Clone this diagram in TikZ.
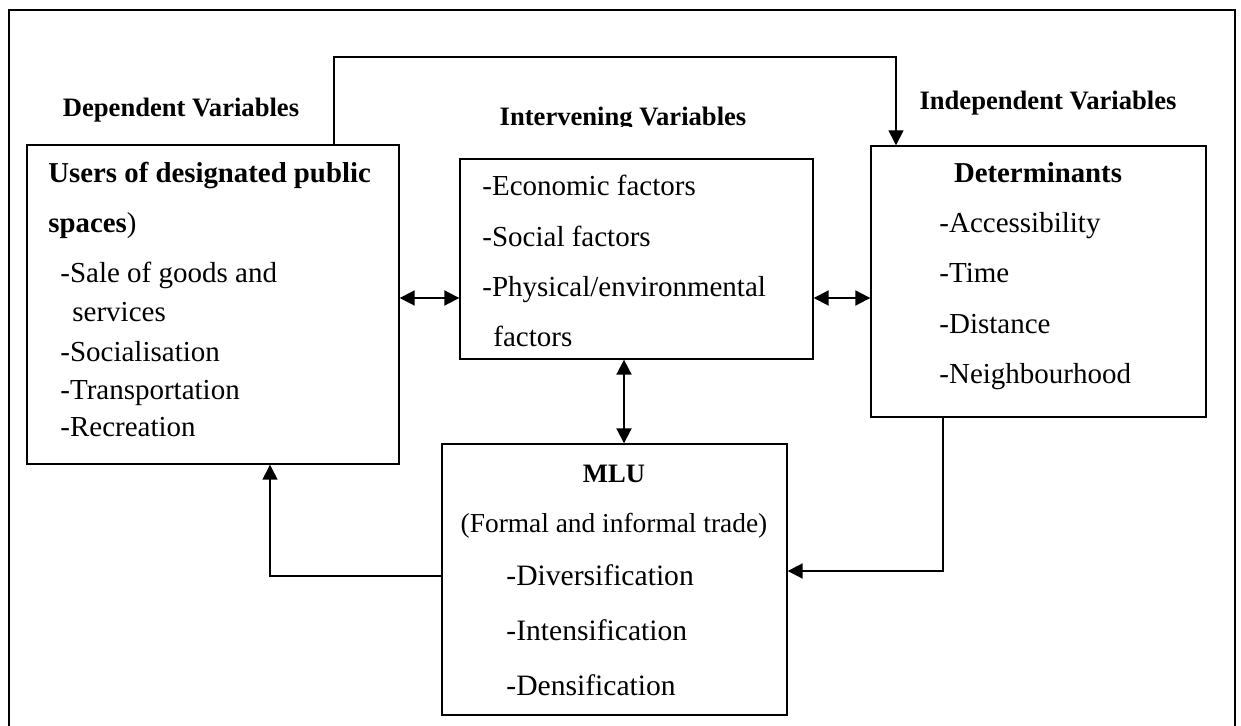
\documentclass[tikz,border=0pt]{standalone}
\usepackage{fontspec}
\setmainfont{Liberation Serif}
\usepackage{tikz}
\usetikzlibrary{arrows.meta}
\tikzset{
    var-box/.style = {draw, line width=0.7pt, rectangle, inner sep=0pt},
    var-label/.style = {font=\fontsize{13.3}{16}\selectfont\bfseries, inner sep=0pt, anchor=base},
    box-head/.style = {font=\fontsize{14.4}{17}\selectfont\bfseries, inner sep=0pt},
    item/.style = {font=\fontsize{14.5}{17}\selectfont, inner sep=0pt, anchor=base west},
    big-item/.style = {font=\fontsize{14.8}{18}\selectfont, inner sep=0pt, anchor=base west},
    link/.style = {line width=0.7pt, -{Triangle[length=7.5pt,width=7.5pt]}},
    strong-link/.style = {line width=1pt, -{Triangle[length=7.5pt,width=7.5pt]}},
    two-way/.style = {line width=1pt, {Triangle[length=7.5pt,width=7.5pt]}-{Triangle[length=7.5pt,width=7.5pt]}},
}

\begin{document}
\begin{tikzpicture}[x=0.5pt, y=-0.5pt]
\useasboundingbox (0,0) rectangle (1241,726);
% outer frame, its bottom edge lies below the page
\draw[line width=1pt] (9,726) -- (9,10) -- (1235,10) -- (1235,726);

% the four boxes
\node[var-box, minimum width=186pt, minimum height=159.5pt] (users) at (213,304.5) {};
\node[var-box, minimum width=176.5pt, minimum height=100pt] (inter) at (636.5,259) {};
\node[var-box, minimum width=167.5pt, minimum height=135.5pt] (det) at (1038.5,281.5) {};
\node[var-box, minimum width=172.5pt, minimum height=135.5pt] (mlu) at (614.5,579.5) {};

% headings above the boxes
\node[var-label] (dep-lbl) at (181,117) {Dependent Variables};
\begin{scope}
    \clip (450,80) rectangle (800,127);
    \node[var-label] (int-lbl) at (623,126) {Intervening Variables};
\end{scope}
\node[var-label] (ind-lbl) at (1048,110) {Independent Variables};

% users of public spaces
\node[box-head, anchor=base west] (users-t1) at (48,183) {Users of designated public};
\node[box-head, anchor=base west] (users-t2) at (48,233) {spaces\textmd{)}};
\foreach \txt/\x/\y in {-Sale of goods and/60/283, services/72/322, -Socialisation/60/362,
    -Transportation/60/400, -Recreation/60/437}
    \node[item] (users-\y) at (\x,\y) {\txt};

% intervening factors
\node[item] (inter-1) at (482,196) {-Economic factors};
\node[item] (inter-2) at (482,247) {-Social factors};
\node[item] (inter-3) at (482,297) {-Physical/environmental};
\node[item] (inter-4) at (493,347) {factors};

% determinants
\node[box-head, anchor=base] (det-t) at (1038,183) {Determinants};
\foreach \txt/\y in {-Accessibility/233, -Time/283, -Distance/334, -Neighbourhood/384}
    \node[item] (det-\y) at (939,\y) {\txt};

% mixed land use
\node[var-label] (mlu-t) at (614,482) {MLU};
\node[font=\fontsize{13.7}{16}\selectfont, inner sep=0pt, anchor=base] (mlu-sub) at (614,532) {(Formal and informal trade)};
\foreach \txt/\y in {-Diversification/585, -Intensification/640, -Densification/695}
    \node[big-item] (mlu-\y) at (506,\y) {\txt};

% connectors
\coordinate (row) at (0,298);
\coordinate (col) at (624,0);
\coordinate (over-l) at (334,57);
\coordinate (over-r) at (896,57);
\coordinate (det-tap) at (943,571);
\coordinate (users-tap) at (270,576);

\draw[link] (users.north -| over-l) -- (over-l) -- (over-r) -- (det.north -| over-r);
\draw[two-way] (users.east |- row) -- (inter.west |- row);
\draw[two-way] (inter.east |- row) -- (det.west |- row);
\draw[two-way] (inter.south -| col) -- (mlu.north -| col);
\draw[strong-link] (det.south -| det-tap) |- (mlu.east |- det-tap);
\draw[link] (mlu.west |- users-tap) -| (users.south -| users-tap);
\end{tikzpicture}
\end{document}
